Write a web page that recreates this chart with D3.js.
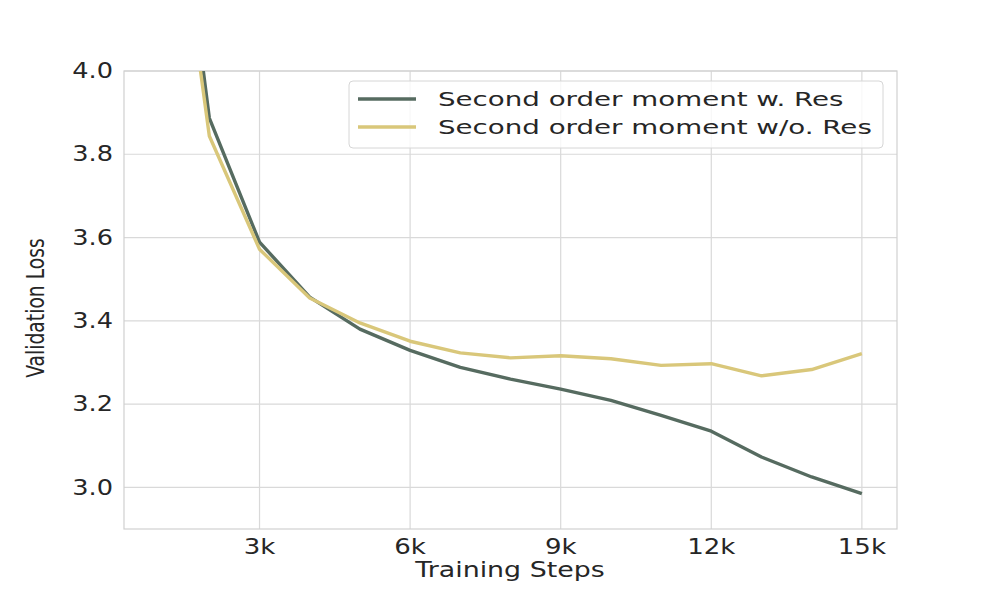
<!DOCTYPE html>
<html><head><meta charset="utf-8">
<script src="https://cdn.jsdelivr.net/npm/d3@7"></script>
<style>body{margin:0;background:#fff}svg{display:block}text{font-family:"DejaVu Sans",sans-serif;fill:#262626}</style>
</head><body><svg id="c" width="997" height="595"></svg>
<script>
const steps = [1000,2000,3000,4000,5000,6000,7000,8000,9000,10000,11000,12000,13000,14000,15000];
const withRes = [4.83,3.887,3.589,3.457,3.380,3.329,3.288,3.260,3.236,3.209,3.173,3.135,3.073,3.025,2.985];
const withoutRes = [4.73,3.844,3.572,3.455,3.395,3.351,3.323,3.311,3.316,3.309,3.293,3.297,3.268,3.283,3.321];
const xTicks = [3000,6000,9000,12000,15000];
const xTickLabels = ["3k","6k","9k","12k","15k"];
const yTicks = [3.0,3.2,3.4,3.6,3.8,4.0];
const seriesNames = ["Second order moment w. Res","Second order moment w/o. Res"];
const colors = ["#566b60","#d9c77a"];

const svg = d3.select("#c");
const L=124,R=897,T=71,B=529;
const x = d3.scaleLinear().domain([300,15700]).range([L,R]);
const y = d3.scaleLinear().domain([2.9,4.0]).range([B,T]);
const grid="#d9d9d9";

svg.append("g").selectAll("line").data(xTicks).join("line")
  .attr("x1",d=>x(d)).attr("x2",d=>x(d)).attr("y1",T).attr("y2",B)
  .attr("stroke",grid).attr("stroke-width",1.2);
svg.append("g").selectAll("line").data(yTicks).join("line")
  .attr("x1",L).attr("x2",R).attr("y1",d=>y(d)).attr("y2",d=>y(d))
  .attr("stroke",grid).attr("stroke-width",1.2);
svg.append("rect").attr("x",L).attr("y",T).attr("width",R-L).attr("height",B-T)
  .attr("fill","none").attr("stroke","#d0d0d0").attr("stroke-width",1.2);

svg.append("clipPath").attr("id","clip").append("rect")
  .attr("x",L).attr("y",T).attr("width",R-L).attr("height",B-T);

const line = d3.line().x((d,i)=>x(steps[i])).y(d=>y(d));
[withRes,withoutRes].forEach((s,k)=>{
  svg.append("path").datum(s).attr("d",line).attr("fill","none")
    .attr("stroke",colors[k]).attr("stroke-width",3.4)
    .attr("stroke-linejoin","round").attr("stroke-linecap","butt")
    .attr("clip-path","url(#clip)");
});
function stext(g,txt,xx,yy,fs,sx,anchor){
  g.append("g").attr("transform",`translate(${xx},${yy}) scale(${sx},1)`)
   .append("text").attr("text-anchor",anchor).attr("dominant-baseline","central")
   .attr("font-size",fs).text(txt);
}
const tg = svg.append("g");
yTicks.forEach(v=>stext(tg,v.toFixed(1),113,y(v),21,1.22,"end"));
xTicks.forEach((v,i)=>stext(tg,xTickLabels[i],x(v),547,20.5,1.27,"middle"));
stext(tg,"Training Steps",510,570,20.5,1.31,"middle");
svg.append("g").attr("transform","translate(35,308) rotate(-90) scale(0.75,1)")
  .append("text").attr("text-anchor","middle").attr("dominant-baseline","central")
  .attr("font-size",25).text("Validation Loss");

const lg = svg.append("g");
lg.append("rect").attr("x",349).attr("y",81).attr("width",534).attr("height",67)
  .attr("rx",4).attr("fill","rgba(255,255,255,0.8)").attr("stroke","#d6d6d6").attr("stroke-width",1);
seriesNames.forEach((n,i)=>{
  const yy = 99+i*28;
  lg.append("line").attr("x1",358).attr("x2",416).attr("y1",yy).attr("y2",yy)
    .attr("stroke",colors[i]).attr("stroke-width",3.4);
  stext(lg,n,438,yy,20,1.385,"start");
});
</script></body></html>
